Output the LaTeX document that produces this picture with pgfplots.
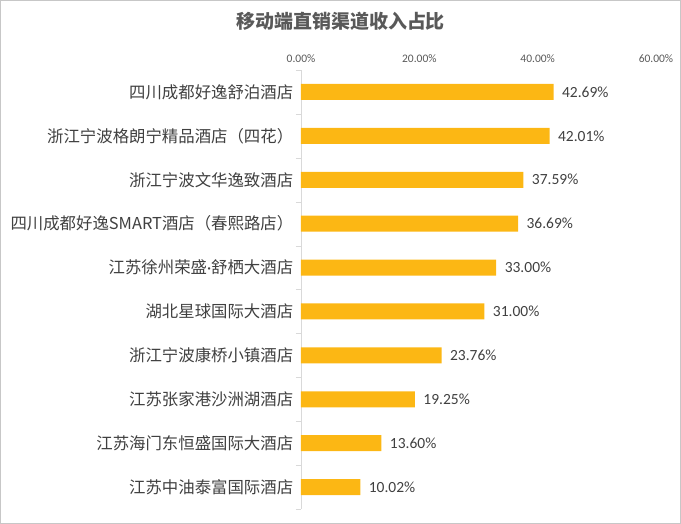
\documentclass[border=0pt]{standalone}
\usepackage{pgfplots}
\pgfplotsset{compat=1.18}
\usepackage{fontspec}
\setmainfont{Noto Sans CJK SC}
\newfontfamily\numfont{Carlito}
\definecolor{barc}{RGB}{252,183,20}
\definecolor{cTitle}{RGB}{89,89,89}
\definecolor{cText}{RGB}{64,64,64}
\definecolor{cAxis}{RGB}{217,217,217}
\pgfplotstableread{
idx val
0 42.69
1 42.01
2 37.59
3 36.69
4 33.00
5 31.00
6 23.76
7 19.25
8 13.60
9 10.02
}\datatable
\begin{document}
\begin{tikzpicture}[x=1pt,y=1pt]
\path[use as bounding box] (0,0) rectangle (681,524);
\draw[black!22] (0.5,0.5) rectangle (680.5,523.5);
\node[font=\bfseries\fontsize{19}{22}\selectfont, text=cTitle] at (340.5,503) {移动端直销渠道收入占比};
\begin{axis}[
  at={(301pt,15pt)}, anchor=south west,
  scale only axis, width=355pt, height=439pt,
  xbar, bar width=16pt,
  xmin=0, xmax=60, ymin=-0.5, ymax=9.5, y dir=reverse,
  separate axis lines,
  axis x line*=top, axis y line*=left,
  x axis line style={draw=none},
  y axis line style={draw=cAxis},
  xtick={0,20,40,60},
  xticklabels={0.00\%,20.00\%,40.00\%,60.00\%},
  xticklabel style={font=\numfont\fontsize{11.5}{13}\selectfont, text=cTitle},
  major x tick style={draw=none},
  ytick={0,...,9},
  yticklabels={四川成都好逸舒泊酒店,浙江宁波格朗宁精品酒店（四花）,浙江宁波文华逸致酒店,四川成都好逸SMART酒店（春熙路店）,江苏徐州荣盛{\numfont ·}舒栖大酒店,湖北星球国际大酒店,浙江宁波康桥小镇酒店,江苏张家港沙洲湖酒店,江苏海门东恒盛国际大酒店,江苏中油泰富国际酒店},
  yticklabel style={font=\fontsize{16.4}{19}\selectfont, text=cText},
  major y tick style={draw=none},
  minor ytick={-0.5,0.5,...,9.5},
  minor y tick style={draw=cAxis},
  minor tick length=5pt,
  tick align=outside,
  point meta=x,
  /pgf/number format/assume math mode=true,
  nodes near coords={\pgfmathprintnumber[fixed,fixed zerofill,precision=2,assume math mode=true]{\pgfplotspointmeta}\%},
  every node near coord/.append style={font=\numfont\fontsize{15.5}{18}\selectfont, text=cText, anchor=west, xshift=5pt},
]
\addplot[draw=none, fill=barc] table[x=val, y=idx] {\datatable};
\end{axis}
\end{tikzpicture}
\end{document}
